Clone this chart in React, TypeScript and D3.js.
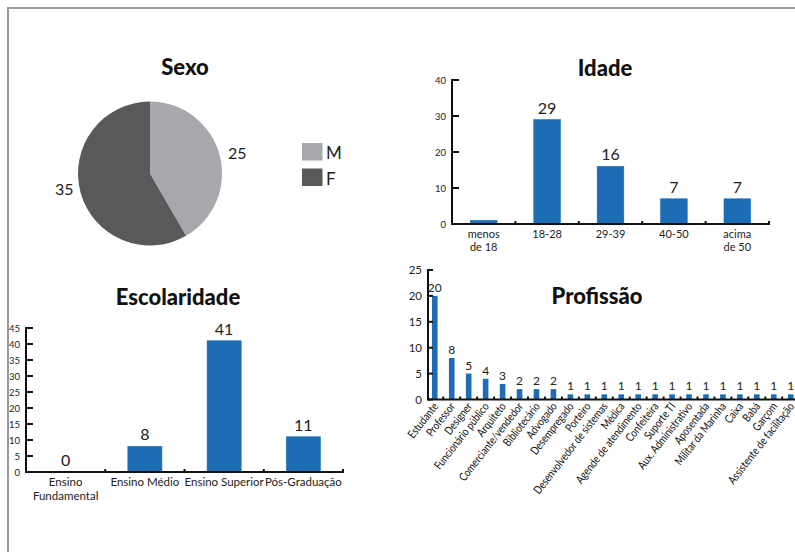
import React from "react";
import * as d3 from "d3";

// Sexo
const sexLabels = ["M", "F"];
const sexValues = [25, 35];
const sexColors = ["#a7a8ab", "#58595b"];

// Idade
const ageCategories = [["menos", "de 18"], ["18-28"], ["29-39"], ["40-50"], ["acima", "de 50"]];
const ageValues = [1, 29, 16, 7, 7];
const ageShowLabel = [false, true, true, true, true];
const ageTicks = [0, 10, 20, 30, 40];

// Escolaridade
const eduCategories = [["Ensino", "Fundamental"], ["Ensino Médio"], ["Ensino Superior"], ["Pós-Graduação"]];
const eduValues = [0, 8, 41, 11];
const eduTicks = [0, 5, 10, 15, 20, 25, 30, 35, 40, 45];

// Profissão
const jobCategories = [
  "Estudante", "Professor", "Designer", "Funcionário público", "Arquiteto",
  "Comerciante/vendedor", "Bibliotecário", "Advogado", "Desempregado", "Porteiro",
  "Desenvolvedor de sistemas", "Médica", "Agende de atendimento", "Confeiteira",
  "Suporte TI", "Aux. Administrativo", "Aposentada", "Militar da Marinha", "Caixa",
  "Babá", "Garçom", "Assistente de facilitação",
];
const jobValues = [20, 8, 5, 4, 3, 2, 2, 2, 1, 1, 1, 1, 1, 1, 1, 1, 1, 1, 1, 1, 1, 1];
const jobTicks = [0, 5, 10, 15, 20, 25];

const BLUE = "#1c6db6";
const FONT = "Lato, 'Noto Sans', sans-serif";

function Title({ x, y, text }: { x: number; y: number; text: string }) {
  return (
    <text x={x} y={y} textAnchor="middle" fontFamily={FONT} fontWeight={900} fontSize={22} fill="#111">
      {text}
    </text>
  );
}

function SexPie() {
  const cx = 150, cy = 173.5, r = 72;
  const pie = d3.pie<number>().sort(null).value((d) => d);
  const arcs = pie(sexValues);
  const arc = d3.arc<d3.PieArcDatum<number>>().innerRadius(0).outerRadius(r);
  return (
    <g>
      <Title x={185} y={75} text="Sexo" />
      <g transform={`translate(${cx},${cy})`}>
        {arcs.map((a, i) => (
          <path key={i} d={arc(a) || ""} fill={sexColors[i]} />
        ))}
      </g>
      {arcs.map((a, i) => {
        // value labels sit just outside the pie, right for M and left for F
        const x = i === 0 ? cx + r + 6 : cx - r - 23;
        const y = i === 0 ? 159 : 195;
        return (
          <text key={i} x={x} y={y} fontFamily={FONT} fontSize={16} fill="#222">
            {a.data}
          </text>
        );
      })}
      {sexLabels.map((l, i) => (
        <g key={l} transform={`translate(302,${143 + i * 25.5})`}>
          <rect width={20.5} height={17.5} fill={sexColors[i]} />
          <text x={24} y={16} fontFamily={FONT} fontSize={17} fill="#222">{l}</text>
        </g>
      ))}
    </g>
  );
}

type BarProps = {
  cats: string[][];
  values: number[];
  showLabel: boolean[];
  ticks: number[];
  x0: number; x1: number; y0: number; yTop: number; max: number;
  tickFont: number; catFont: number; valFont: number;
  catY: number; catLine: number; barFrac: number;
};

function BarChart(p: BarProps) {
  const x = d3.scaleBand<number>().domain(p.values.map((_, i) => i)).range([p.x0, p.x1]).paddingInner(0).paddingOuter(0);
  const y = d3.scaleLinear().domain([0, p.max]).range([p.y0, p.yTop]);
  const bw = x.bandwidth() * p.barFrac;
  return (
    <g>
      {p.values.map((v, i) => {
        const cx = (x(i) as number) + x.bandwidth() / 2;
        return (
          <g key={i}>
            <rect x={cx - bw / 2} y={y(v)} width={bw} height={p.y0 - y(v)} fill={BLUE} stroke={BLUE} strokeWidth={0.6} />
            {p.showLabel[i] && (
              <text x={cx} y={y(v) - 6} textAnchor="middle" fontFamily={FONT} fontSize={p.valFont} fill="#222">{v}</text>
            )}
            {p.cats[i].map((line, j) => (
              <text key={j} x={cx} y={p.catY + j * p.catLine} textAnchor="middle" fontFamily={FONT} fontSize={p.catFont} fill="#222">{line}</text>
            ))}
          </g>
        );
      })}
      {/* y axis */}
      <line x1={p.x0} x2={p.x0} y1={p.yTop - 1} y2={p.y0 + 1} stroke="#111" strokeWidth={2} />
      {p.ticks.map((t) => (
        <g key={t}>
          <line x1={p.x0} x2={p.x0 + 7} y1={y(t)} y2={y(t)} stroke="#111" strokeWidth={2} />
          <text x={p.x0 - 6} y={y(t) + 3.5} textAnchor="end" fontFamily={FONT} fontSize={p.tickFont} fill="#222">{t}</text>
        </g>
      ))}
      {/* x axis */}
      <line x1={p.x0} x2={p.x1 + 1} y1={p.y0} y2={p.y0} stroke="#111" strokeWidth={2} />
      {p.values.map((_, i) => {
        const bx = (x(i) as number) + x.bandwidth();
        return <line key={i} x1={bx} x2={bx} y1={p.y0 + 1} y2={p.y0 - 3} stroke="#111" strokeWidth={2} />;
      })}
    </g>
  );
}

function JobChart() {
  const x0 = 428, y0 = 399.5, yTop = 270;
  const x = d3.scaleBand<number>().domain(jobValues.map((_, i) => i)).range([426.3, 426.3 + 22 * 16.95]);
  const y = d3.scaleLinear().domain([0, 25]).range([y0, yTop]);
  const bw = 5.6;
  return (
    <g>
      <Title x={597} y={304} text="Profissão" />
      {jobValues.map((v, i) => {
        const cx = (x(i) as number) + x.bandwidth() / 2;
        return (
          <g key={i}>
            <rect x={cx - bw / 2} y={y(v)} width={bw} height={y0 - y(v)} fill={BLUE} />
            <text x={cx} y={y(v) - 4} textAnchor="middle" fontFamily={FONT} fontSize={12} fill="#222">{v}</text>
            <text
              transform={`translate(${cx + 4},${y0 + 7}) rotate(-52) scale(0.82,1)`}
              textAnchor="end"
              fontFamily={FONT}
              fontSize={11.5}
              fill="#111"
            >
              {jobCategories[i]}
            </text>
          </g>
        );
      })}
      <line x1={x0} x2={x0} y1={yTop - 1} y2={y0 + 1} stroke="#111" strokeWidth={2} />
      {jobTicks.map((t) => (
        <g key={t}>
          <line x1={x0} x2={x0 + 5} y1={y(t)} y2={y(t)} stroke="#111" strokeWidth={2} />
          <text x={x0 - 6} y={y(t) + 4} textAnchor="end" fontFamily={FONT} fontSize={11.5} fill="#222">{t}</text>
        </g>
      ))}
      <line x1={x0} x2={800} y1={y0} y2={y0} stroke="#111" strokeWidth={2} />
      {jobValues.map((_, i) => {
        const bx = (x(i) as number) + x.bandwidth();
        return <line key={i} x1={bx} x2={bx} y1={y0} y2={y0 - 3} stroke="#111" strokeWidth={2} />;
      })}
    </g>
  );
}

export default function App() {
  return (
    <svg
      width={795}
      height={552}
      style={{ position: "absolute", left: 0, top: 0, background: "#fff" }}
    >
      <rect x={0} y={0} width={795} height={552} fill="#fff" />
      <rect x={8} y={8} width={900} height={700} fill="none" stroke="#9a9a9a" strokeWidth={2} />
      <SexPie />
      <Title x={605} y={76} text="Idade" />
      <BarChart
        cats={ageCategories}
        values={ageValues}
        showLabel={ageShowLabel}
        ticks={ageTicks}
        x0={452} x1={769} y0={224} yTop={80} max={40}
        tickFont={9.5} catFont={11} valFont={16}
        catY={238} catLine={13} barFrac={0.42}
      />
      <Title x={178} y={305} text="Escolaridade" />
      <BarChart
        cats={eduCategories}
        values={eduValues}
        showLabel={eduValues.map(() => true)}
        ticks={eduTicks}
        x0={26} x1={343} y0={472} yTop={328} max={45}
        tickFont={9.5} catFont={11.5} valFont={16}
        catY={486} catLine={14} barFrac={0.43}
      />
      <JobChart />
    </svg>
  );
}
